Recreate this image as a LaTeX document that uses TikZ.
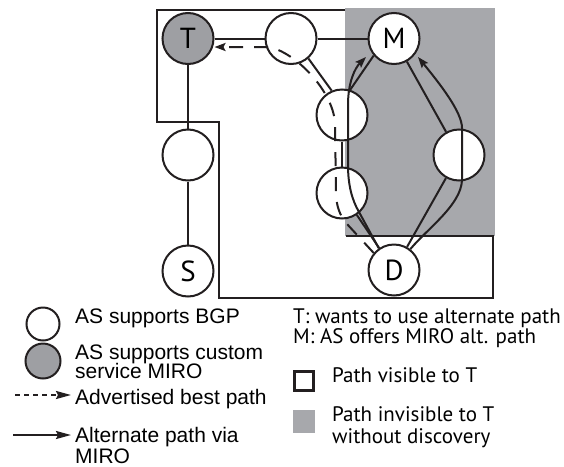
\documentclass[tikz,border=0pt]{standalone}
\usepackage{fontspec}
\setmainfont{Liberation Sans}
\newfontfamily\myr{PT Sans}
\usetikzlibrary{arrows.meta}
\definecolor{ink}{RGB}{35,31,32}
\definecolor{regiongray}{RGB}{167,168,172}
\definecolor{tgray}{RGB}{158,159,163}
\begin{document}
\begin{tikzpicture}[x=1pt,y=-1pt,
  as/.style={circle,draw=ink,line width=2pt,fill=white,minimum size=51pt,inner sep=0pt,
    font=\myr\fontsize{29}{29}\selectfont},
  legc/.style={circle,draw=ink,line width=2pt,fill=white,minimum size=33pt,inner sep=0pt},
  edge/.style={draw=ink,line width=2pt},
  frame/.style={draw=ink,line width=2.5pt},
  adv/.style={draw=ink,line width=2pt,dash pattern=on 14pt off 11pt},
  alt/.style={draw=ink,line width=2pt},
  tip/.style={-{Stealth[length=11pt,width=8pt,inset=2pt]}},
  ltip/.style={-{Stealth[length=15pt,width=8pt,inset=2pt]}},
  ltxt/.style={anchor=base west,inner sep=0pt,font=\fontsize{21}{21}\selectfont},
  rtxt/.style={anchor=base west,inner sep=0pt,font=\myr\fontsize{21}{21}\selectfont}]
\useasboundingbox (0,0) rectangle (564,466);
% regions
\fill[regiongray] (345,8) rectangle (495,236);
\draw[frame] (345,10) -- (157,10) -- (157,122) -- (219,122) -- (219,298) -- (493,298) -- (493,236) -- (346,236);
% nodes
\node[as,fill=tgray] (T) at (188,38.5) {T};
\node[as] (A) at (291,38.5) {};
\node[as] (M) at (394,38.5) {M};
\node[as] (F) at (188,155) {};
\node[as] (S) at (188,271) {S};
\node[as] (B) at (342,115) {};
\node[as] (C) at (342,193) {};
\node[as] (D) at (394,270) {D};
\node[as] (E) at (459,155) {};
% edges
\draw[edge] (T) -- (A);
\draw[edge] (A) -- (M);
\draw[edge] (T) -- (F);
\draw[edge] (F) -- (S);
\draw[edge] (A.-49) -- (B.113);
\draw[edge] (B) -- (C);
\draw[edge] (C) -- (D);
\draw[edge] (B.72) -- (M.220);
\draw[edge] (M) -- (E);
\draw[edge] (E) -- (D);
% advertised best path
\draw[adv,tip] (D.140) -- (347,224) .. controls (340,216) and (336,206) .. (336,192)
  -- (335,125) .. controls (335,95) and (300,55) .. (270,47) -- ([yshift=-8.5pt]T.east);
% alternate paths
\draw[alt,tip] (D.125) -- (359,212) .. controls (352,200) and (348,185) .. (348,165)
  -- (348,105) .. controls (348,82) and (355,68) .. (366,57);
\draw[alt,tip] (D.52) .. controls (428,228) and (461,205) .. (462,180)
  -- (462,128) .. controls (462,112) and (440,84) .. (418,57);
% legend left
\node[legc] (l1) at (43,324) {};
\node[legc,fill=tgray,minimum size=35pt] (l2) at (43,361) {};
\coordinate (a1) at (15,395); \coordinate (a2) at (71,395);
\coordinate (b1) at (13,435); \coordinate (b2) at (71,435);
\draw[draw=ink,line width=2pt,dash pattern=on 5pt off 4pt,ltip] (a1) -- (a2);
\draw[alt,ltip] (b1) -- (b2);
\node[ltxt] (t1) at (75,323) {AS supports BGP};
\node[ltxt] (t2) at (75,359) {AS supports custom};
\node[ltxt] (t3) at (75,378) {service MIRO};
\node[ltxt] (t4) at (75,404) {Advertised best path};
\node[ltxt] (t5) at (75,442) {Alternate path via};
\node[ltxt] (t6) at (75,463) {MIRO};
% legend right
\node[rtxt] (r1) at (293,323) {T: wants to use alternate path};
\node[rtxt] (r2) at (293,343) {M: AS offers MIRO alt. path};
\draw[draw=ink,line width=2.5pt] (294.5,371.5) rectangle (313.5,390.5);
\node[rtxt] (r3) at (332,382) {Path visible to T};
\fill[regiongray] (293,410) rectangle (315,433);
\node[rtxt] (r4) at (332,421) {Path invisible to T};
\node[rtxt] (r5) at (332,443) {without discovery};
\end{tikzpicture}
\end{document}
